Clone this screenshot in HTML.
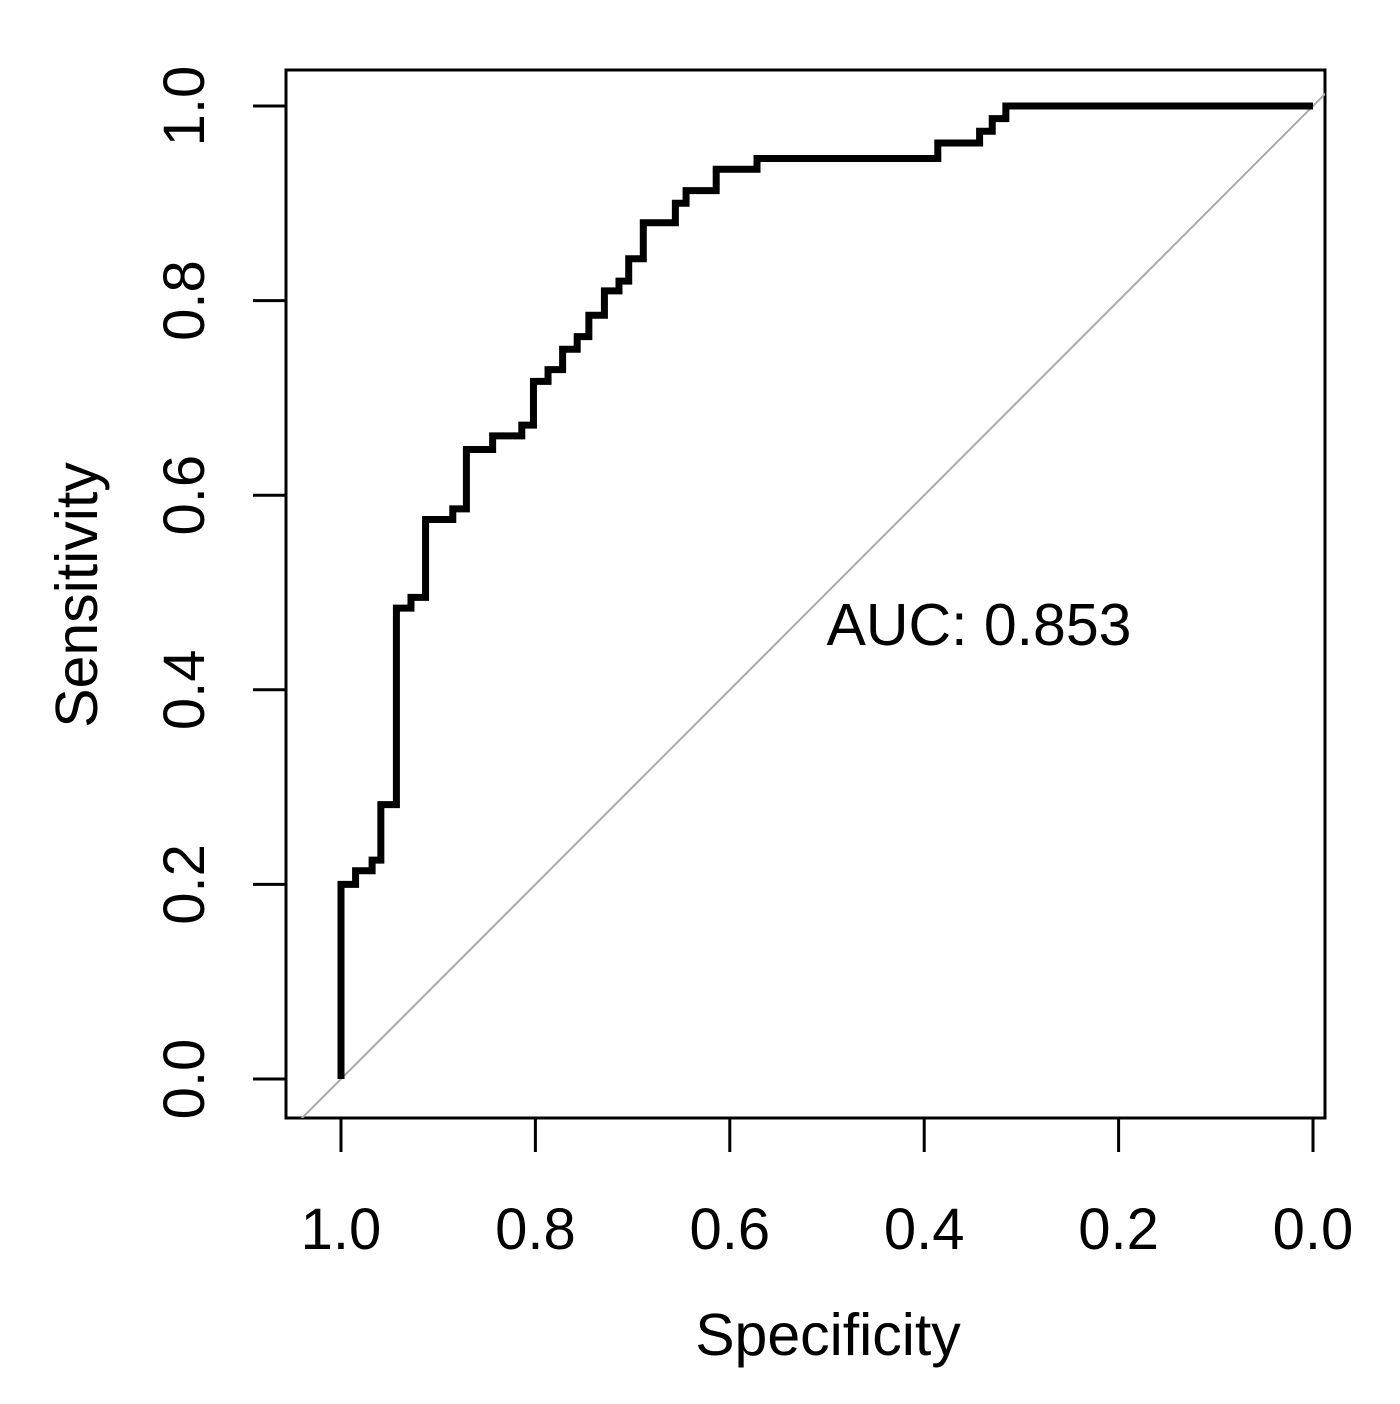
<!DOCTYPE html>
<html><head><meta charset="utf-8"><style>
html,body{margin:0;padding:0;background:#fff}
svg{display:block}
text{font-family:"Liberation Sans",Arial,sans-serif;fill:#000}
</style></head><body>
<svg id="chart" width="1400" height="1404" viewBox="0 0 1400 1404">
<defs><clipPath id="clip"><rect x="286" y="70" width="1039" height="1048"/></clipPath></defs>
<rect x="286" y="70" width="1039" height="1048" fill="none" stroke="#000" stroke-width="3"/>
<g id="axes"></g>
<g id="marks" clip-path="url(#clip)"></g>
<text x="979" y="645" font-size="59" text-anchor="middle">AUC: 0.853</text>
<text x="828" y="1355" font-size="59" text-anchor="middle">Specificity</text>
<text transform="translate(97,595) rotate(-90)" font-size="59" text-anchor="middle">Sensitivity</text>
</svg>
<script>
const specificity=[1.0,1.0,0.985,0.985,0.968,0.968,0.959,0.959,0.943,0.943,0.928,0.928,0.913,0.913,0.885,0.885,0.871,0.871,0.844,0.844,0.814,0.814,0.802,0.802,0.787,0.787,0.772,0.772,0.757,0.757,0.745,0.745,0.729,0.729,0.714,0.714,0.704,0.704,0.689,0.689,0.656,0.656,0.645,0.645,0.614,0.614,0.572,0.572,0.386,0.386,0.343,0.343,0.330,0.330,0.316,0.316,0.0];
const sensitivity=[0.0,0.2,0.2,0.214,0.214,0.225,0.225,0.282,0.282,0.484,0.484,0.495,0.495,0.575,0.575,0.586,0.586,0.647,0.647,0.661,0.661,0.672,0.672,0.717,0.717,0.729,0.729,0.75,0.75,0.763,0.763,0.785,0.785,0.81,0.81,0.82,0.82,0.843,0.843,0.88,0.88,0.90,0.90,0.913,0.913,0.935,0.935,0.946,0.946,0.962,0.962,0.974,0.974,0.987,0.987,1.0,1.0];
const xTicks=[1.0,0.8,0.6,0.4,0.2,0.0];
const yTicks=[0.0,0.2,0.4,0.6,0.8,1.0];
const xTickLabels=["1.0","0.8","0.6","0.4","0.2","0.0"];
const yTickLabels=["0.0","0.2","0.4","0.6","0.8","1.0"];
const NS="http://www.w3.org/2000/svg";
const X=v=>1313-(v)*972;
const Y=v=>1079-v*973;
const axes=document.getElementById('axes'),marks=document.getElementById('marks');
function mk(tag,attrs,parent){const e=document.createElementNS(NS,tag);for(const k in attrs)e.setAttribute(k,attrs[k]);parent.appendChild(e);return e;}
xTicks.forEach((t,i)=>{
 const l=mk('line',{x1:X(t),x2:X(t),y1:1118,y2:1152,stroke:'#000','stroke-width':3},axes);
 
 
 const tx=mk('text',{x:X(t),y:1249,'font-size':58,'text-anchor':'middle'},axes);
 tx.textContent=xTickLabels[i];
 
 
});
yTicks.forEach((t,i)=>{
 const l=mk('line',{x1:253,x2:286,y1:Y(t),y2:Y(t),stroke:'#000','stroke-width':3},axes);
 
 
 const tx=mk('text',{transform:`translate(204,${Y(t)}) rotate(-90)`,'font-size':58,'text-anchor':'middle'},axes);
 tx.textContent=yTickLabels[i];
 
 
});
const d=mk('line',{x1:X(1.05),y1:Y(-0.05),x2:X(-0.05),y2:Y(1.05),stroke:'#aaa','stroke-width':2},marks);


const pts=specificity.map((s,i)=>X(s)+','+Y(sensitivity[i])).join(' ');
const p=mk('polyline',{points:pts,fill:'none',stroke:'#000','stroke-width':7,'stroke-linejoin':'miter'},marks);


</script>
</body></html>
